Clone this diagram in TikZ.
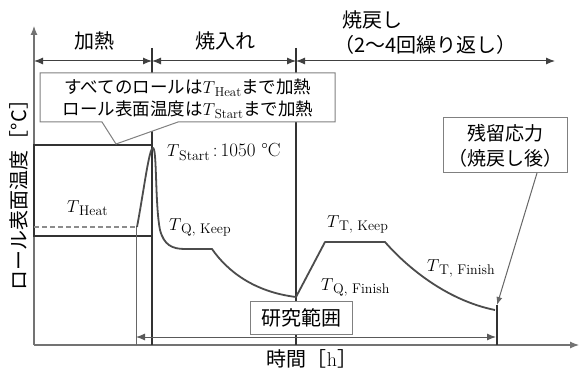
\documentclass[tikz,border=0pt]{standalone}
\usepackage{fontspec}
\newfontfamily\jp{Noto Sans CJK JP}
\usetikzlibrary{arrows.meta}
\newcommand{\TL}[1]{{\fontsize{19}{19}\selectfont$T$}\kern-0.3pt\raisebox{-3.5pt}{\normalfont\fontsize{14}{14}\selectfont #1}}
\newcommand{\TC}[1]{{\fontsize{17.5}{17.5}\selectfont$T$}\kern-0.3pt\raisebox{-3pt}{\normalfont\fontsize{13}{13}\selectfont #1}}
\begin{document}
\begin{tikzpicture}[x=1pt,y=-1pt,
  axisline/.style={draw=black!55,line width=1.1pt},
  darkline/.style={draw=black!80,line width=1.5pt},
  thinline/.style={draw=black!60,line width=1pt},
  dimarrow/.style={draw=black!75,line width=1pt,{Latex[length=9pt,width=7pt]}-{Latex[length=9pt,width=7pt]}},
  tcurve/.style={draw=black!70,line width=1.8pt,line join=round},
  jlabel/.style={font=\jp\fontsize{20}{20}\selectfont,inner sep=0pt},
  clabel/.style={font=\jp\fontsize{17.5}{17.5}\selectfont,inner sep=0pt,anchor=base},
  tlabel/.style={inner sep=0pt,anchor=base west},
  framebox/.style={draw=black!50,line width=1pt,fill=white}]
\useasboundingbox (0,0) rectangle (580,371);
\fill[white] (0,0) rectangle (580,371);

% key coordinates
\coordinate (O) at (34,345);
\coordinate (Ytip) at (34,26);
\coordinate (Xtip) at (579,345);
\coordinate (v1t) at (152,48);
\coordinate (v1b) at (152,345);
\coordinate (v2t) at (296,48);
\coordinate (v2b) at (296,345);
\coordinate (d0) at (34,61);
\coordinate (d1) at (152,61);
\coordinate (d2) at (296,61);
\coordinate (d3) at (555,61);
\coordinate (hbA) at (34,145);
\coordinate (hbB) at (152,236);
\coordinate (dashL) at (34,227);
\coordinate (dashR) at (137,227);
\coordinate (s0t) at (136,227);
\coordinate (s0b) at (136,345);
\coordinate (endT) at (497,305);
\coordinate (endB) at (497,345);
\coordinate (rL) at (136,337);
\coordinate (rR) at (496,337);

% axes
\draw[axisline,-{Latex[length=9pt,width=7pt]}] (O) -- (Ytip);
\draw[axisline,-{Latex[length=9pt,width=7pt]}] (O) -- (Xtip);

% phase separators
\draw[darkline] (v1t) -- (v1b);
\draw[darkline] (v2t) -- (v2b);

% phase dimension arrows
\draw[dimarrow] (d0) -- (d1);
\draw[dimarrow] (d1) -- (d2);
\draw[dimarrow] (d2) -- (d3);

% heating box
\draw[darkline] (hbA) rectangle (hbB);
\draw[draw=black!45,line width=1.2pt,dash pattern=on 5pt off 3pt] (dashL) -- (dashR);
\draw[thinline] (s0t) -- (s0b);
\draw[darkline] (endT) -- (endB);

% temperature curve
\draw[tcurve] (137,227) .. controls (144,190) and (149,148) .. (153,148)
  .. controls (157,148) and (155,205) .. (160,230)
  .. controls (164,245) and (172,249) .. (185,249)
  -- (212,249)
  .. controls (228,272) and (255,292) .. (296,297)
  -- (325,242) -- (385,242)
  .. controls (405,265) and (445,300) .. (495,310);

% research range
\draw[dimarrow,draw=black!65] (rL) -- (rR);
\node[framebox,jlabel,minimum width=102pt,minimum height=33pt] (rng) at (301,317.5) {研究範囲};

% callout
\draw[framebox] (40,73) -- (335,73) -- (335,122) -- (178,122) -- (116,144)
  -- (102,122) -- (40,122) -- cycle;
\node[clabel] (c1) at (188,94) {すべてのロールは\TC{Heat}まで加熱};
\node[clabel] (c2) at (188,116) {ロール表面温度は\TC{Start}まで加熱};

% residual stress box
\node[framebox,jlabel,font=\jp\fontsize{19}{25}\selectfont,align=center,
  minimum width=124pt,minimum height=55pt] (res) at (505,145.5) {残留応力\\（焼戻し後）};
\coordinate (resfoot) at (537,173);
\draw[draw=black!60,line width=1pt,-{Latex[length=8pt,width=6pt]}] (resfoot) -- (endT);

% phase labels
\node[jlabel] (lh) at (94,41) {加熱};
\node[jlabel] (lq) at (225,41) {焼入れ};
\node[jlabel,anchor=west] (lt1) at (342,20) {焼戻し};
\node[jlabel,anchor=west] (lt2) at (334,45) {（2〜4回繰り返し）};

% axis labels
\node[jlabel,rotate=90] (ylab) at (19,190) {ロール表面温度［°C］};
\node[jlabel] (xlab) at (312,359) {時間［{\normalfont h}］};

% temperature labels
\node[tlabel] (tH) at (67,212) {\TL{Heat}};
\node[tlabel] (tS) at (167,157) {\TL{Start}{\fontsize{19}{19}\selectfont\,:\,1050 °C}};
\node[tlabel] (tQK) at (169,230) {\TL{Q, Keep}};
\node[tlabel] (tTK) at (327,227) {\TL{T, Keep}};
\node[tlabel] (tQF) at (321,290) {\TL{Q, Finish}};
\node[tlabel] (tTF) at (427,271) {\TL{T, Finish}};
\end{tikzpicture}
\end{document}
